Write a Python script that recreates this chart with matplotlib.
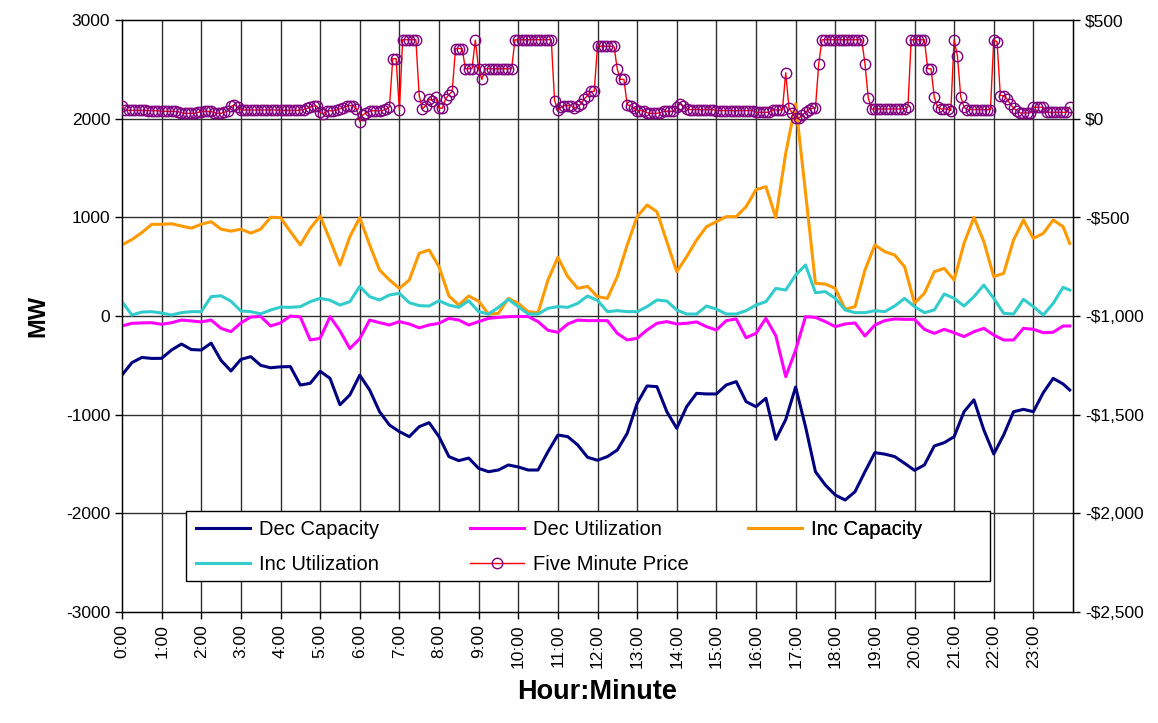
import numpy as np
import matplotlib
matplotlib.use("Agg")
import matplotlib.pyplot as plt
from matplotlib.ticker import FuncFormatter
from matplotlib.patches import Rectangle

# ---------------- data ----------------
hour_labels = [f"{h}:00" for h in range(24)]

# five-minute price ($), 12 values per hour
price = [
    63, 42, 42, 42, 42, 42, 42, 42, 41, 41, 40, 40,
    38, 37, 37, 37, 37, 36, 30, 27, 27, 27, 27, 32,
    36, 37, 37, 37, 30, 27, 27, 33, 38, 62, 70, 58,
    45, 44, 44, 44, 44, 44, 44, 44, 44, 44, 44, 44,
    42, 42, 42, 42, 42, 42, 44, 46, 52, 58, 64, 64,
    32, 24, 40, 40, 40, 44, 50, 55, 62, 66, 66, 50,
    -15, 20, 30, 38, 40, 40, 40, 42, 48, 60, 304, 304,
    44, 400, 400, 400, 400, 400, 117, 49, 66, 100, 92, 109,
    53, 53, 100, 122, 138, 355, 355, 355, 253, 253, 253, 398,
    253, 199, 253, 253, 253, 253, 253, 253, 253, 253, 253, 400,
    400, 400, 400, 400, 400, 400, 400, 400, 400, 400, 400, 92,
    44, 58, 66, 66, 66, 53, 63, 75, 100, 117, 138, 138,
    367, 367, 367, 367, 367, 367, 250, 199, 199, 70, 66, 53,
    41, 41, 38, 30, 27, 27, 27, 30, 37, 37, 37, 37,
    58, 75, 63, 50, 46, 46, 46, 46, 46, 46, 46, 46,
    41, 41, 41, 41, 41, 41, 41, 41, 41, 41, 41, 41,
    32, 32, 32, 32, 32, 44, 44, 44, 44, 233, 53, 29,
    2, 2, 19, 32, 46, 53, 53, 279, 400, 400, 400, 400,
    400, 400, 400, 400, 400, 400, 400, 400, 400, 279, 104, 49,
    49, 49, 49, 49, 49, 49, 49, 49, 49, 49, 58, 400,
    400, 400, 400, 400, 253, 253, 109, 58, 49, 49, 49, 41,
    400, 318, 112, 58, 46, 46, 46, 46, 46, 46, 46, 46,
    400, 389, 117, 117, 100, 75, 53, 41, 29, 29, 29, 29,
    58, 58, 58, 58, 32, 32, 32, 32, 32, 32, 32, 58,
]

# MW series, sampled every 15 minutes (4 per hour) plus the 23:55 reading
dec_capacity = [
    -598, -473, -420, -430, -429, -345, -284, -340,
    -345, -275, -450, -557, -440, -412, -500, -525,
    -515, -513, -700, -682, -560, -632, -900, -800,
    -600, -750, -970, -1105, -1172, -1223, -1122, -1081,
    -1223, -1425, -1466, -1440, -1544, -1578, -1561, -1510,
    -1530, -1561, -1561, -1375, -1206, -1223, -1307, -1432,
    -1462, -1425, -1358, -1189, -885, -709, -716, -970,
    -1138, -919, -784, -790, -790, -699, -665, -868,
    -919, -834, -1250, -1050, -720, -1122, -1578, -1713,
    -1814, -1865, -1780, -1578, -1385, -1400, -1425, -1493,
    -1564, -1510, -1317, -1284, -1223, -970, -850, -1155,
    -1399, -1206, -970, -946, -970, -777, -632, -689,
    -750,
]
dec_utilization = [
    -101, -74, -70, -68, -84, -68, -41, -50,
    -60, -41, -125, -159, -70, -10, -5, -101,
    -70, 0, -10, -243, -226, -7, -150, -330,
    -230, -41, -68, -91, -57, -81, -120, -91,
    -74, -24, -41, -91, -57, -24, -14, -7,
    -5, -5, -57, -145, -165, -81, -41, -47,
    -47, -47, -176, -243, -226, -142, -74, -57,
    -81, -74, -60, -108, -142, -47, -30, -220,
    -176, -24, -200, -615, -345, -7, -14, -57,
    -108, -81, -70, -203, -91, -47, -30, -34,
    -34, -135, -176, -135, -169, -209, -159, -125,
    -193, -243, -243, -125, -135, -169, -165, -101,
    -101,
]
inc_capacity = [
    720, 775, 845, 929, 929, 935, 912, 890,
    930, 956, 880, 860, 880, 840, 880, 1000,
    997, 855, 720, 888, 1013, 770, 517, 804,
    997, 720, 466, 365, 280, 365, 635, 669,
    500, 203, 111, 203, 150, 20, 27, 179,
    128, 44, 34, 365, 595, 399, 280, 300,
    196, 179, 399, 720, 1007, 1125, 1057, 753,
    449, 601, 770, 905, 956, 1007, 1007, 1108,
    1280, 1311, 997, 1650, 2150, 1250, 331, 324,
    280, 68, 95, 466, 720, 652, 618, 500,
    130, 230, 449, 483, 365, 736, 1000, 753,
    399, 432, 770, 973, 787, 838, 973, 905,
    736,
]
inc_utilization = [
    145, 10, 40, 44, 30, 10, 34, 44,
    44, 196, 205, 150, 51, 44, 22, 60,
    90, 88, 95, 145, 179, 160, 111, 145,
    300, 196, 162, 213, 230, 135, 105, 101,
    155, 111, 88, 155, 44, 20, 88, 169,
    95, 20, 20, 78, 95, 88, 128, 203,
    158, 44, 54, 44, 44, 95, 162, 152,
    61, 20, 20, 101, 70, 20, 20, 54,
    111, 145, 280, 263, 415, 517, 236, 247,
    179, 61, 34, 34, 54, 44, 101, 179,
    95, 34, 61, 223, 179, 101, 196, 314,
    179, 27, 20, 169, 95, 10, 128, 291,
    263,
]

price_t = np.arange(len(price)) / 12.0
line_t = np.append(np.arange(96) / 4.0, 23 + 55 / 60.0)

# ---------------- figure ----------------
plt.rcParams["font.family"] = ["Liberation Sans", "DejaVu Sans"]
plt.rcParams["axes.unicode_minus"] = False

W, H = 1158, 723
fig = plt.figure(figsize=(W / 100, H / 100), dpi=100)
L, R, T, B = 122, 1073, 20, 612
ax = fig.add_axes([L / W, 1 - B / H, (R - L) / W, (B - T) / H])


def fx(px):
    return px / W


def fy(py):
    return 1 - py / H


grid_c = "#303030"
ax.set_xlim(0, 24)
ax.set_ylim(-3000, 3000)
ax.set_yticks(np.arange(-3000, 3001, 1000))
ax.set_xticks(np.arange(24))
ax.set_xticklabels(hour_labels, rotation=90, fontsize=12.5)
ax.tick_params(axis="y", labelsize=12.5, direction="out", length=5, width=1)
ax.tick_params(axis="x", direction="out", length=5, width=1, pad=4)
for v in range(1, 24):
    ax.axvline(v, color=grid_c, lw=1.0, zorder=0.5)
for v in range(-2000, 3000, 1000):
    ax.axhline(v, color=grid_c, lw=1.0, zorder=0.5)
for s in ax.spines.values():
    s.set_color("black")
    s.set_linewidth(1.0)

lw = 2.2
l1, = ax.plot(line_t, dec_capacity, color="#000080", lw=lw, label="Dec Capacity", zorder=3)
l2, = ax.plot(line_t, dec_utilization, color="#FF00FF", lw=lw, label="Dec Utilization", zorder=3)
l3, = ax.plot(line_t, inc_capacity, color="#FF9900", lw=lw, label="Inc Capacity", zorder=3)
l4, = ax.plot(line_t, inc_utilization, color="#33CCCC", lw=lw, label="Inc Utilization", zorder=3)

ax.set_ylabel("MW", fontsize=17, fontweight="bold", labelpad=12)
ax.set_xlabel("Hour:Minute", fontsize=19.5, fontweight="bold", labelpad=8)

ax2 = ax.twinx()
ax2.set_xlim(0, 24)
ax2.set_ylim(-2500, 500)
ax2.set_yticks(np.arange(-2500, 501, 500))


def money(v, pos=None):
    v = int(round(v))
    return f"-${abs(v):,}" if v < 0 else f"${v:,}"


ax2.yaxis.set_major_formatter(FuncFormatter(money))
ax2.tick_params(axis="y", labelsize=12.5, direction="out", length=5, width=1)
l5, = ax2.plot(price_t, price, color="#FF0000", lw=1.0, marker="o", ms=7.5,
               mfc="none", mec="#800080", mew=1.0, label="Five Minute Price", zorder=4)

# legend frame
frame = Rectangle((fx(186), fy(581)), fx(990) - fx(186), fy(511) - fy(581),
                  transform=fig.transFigure, facecolor="white", edgecolor="black",
                  lw=1.0, zorder=5)
ax2.add_artist(frame)

# legend columns (row-wise order as in the original)
columns = [([l1, l4], 196), ([l2, l5], 470), ([l3], 748)]
for handles, xpx in columns:
    lg = ax2.legend(handles=handles, loc="upper left",
                    bbox_to_anchor=(fx(xpx), fy(520)),
                    bbox_transform=fig.transFigure,
                    fontsize=14.5, frameon=False, handlelength=2.7,
                    handletextpad=0.45, borderpad=0, borderaxespad=0,
                    labelspacing=0.78)
    lg.set_zorder(6)
    ax2.add_artist(lg)

fig.savefig("out.png", dpi=100, facecolor="white")
